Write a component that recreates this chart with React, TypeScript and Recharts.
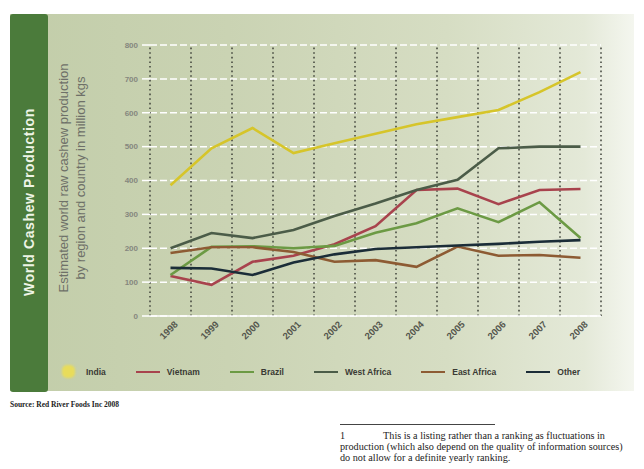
import React from 'react';
import { LineChart, Line, XAxis, YAxis, CartesianGrid, ReferenceLine, Legend } from 'recharts';

// million kgs
const years = ['1998', '1999', '2000', '2001', '2002', '2003', '2004', '2005', '2006', '2007', '2008'];
const india = [386, 495, 555, 481, 510, 538, 566, 587, 608, 661, 720];
const vietnam = [118, 92, 160, 178, 212, 265, 372, 376, 330, 372, 375];
const brazil = [121, 204, 206, 200, 207, 246, 274, 318, 277, 336, 230];
const westAfrica = [200, 245, 230, 254, 295, 332, 372, 402, 495, 500, 500];
const eastAfrica = [186, 203, 203, 189, 160, 165, 145, 205, 178, 180, 172];
const other = [142, 140, 121, 158, 182, 198, 203, 208, 213, 219, 224];
const yTicks = [0, 100, 200, 300, 400, 500, 600, 700, 800];

const series = [
  { name: 'India', values: india, color: '#d6c52a' },
  { name: 'Vietnam', values: vietnam, color: '#a8434d' },
  { name: 'Brazil', values: brazil, color: '#6c9a44' },
  { name: 'West Africa', values: westAfrica, color: '#4b5c48' },
  { name: 'East Africa', values: eastAfrica, color: '#8d5b33' },
  { name: 'Other', values: other, color: '#1b2d38' },
];
const order = series.map((s) => s.name);

const rows = years.map((year, i) => {
  const row: Record<string, number | string> = { idx: i, year };
  series.forEach((s) => { row[s.name] = s.values[i]; });
  return row;
});

// category boundaries for the dotted vertical grid
const bounds = [...years.map((_, i) => i - 0.5), years.length - 0.5];

const YearTick = ({ x, y, payload }: any) => (
  <text
    x={x + 8}
    y={y + 9}
    transform={`rotate(-45 ${x + 8} ${y + 9})`}
    textAnchor="end"
    fontSize={9.5}
    fontWeight={700}
    fill="#55574e"
  >
    {years[payload.value]}
  </text>
);

const renderLegend = ({ payload }: any) => {
  const items = [...payload].sort((a: any, b: any) => order.indexOf(a.value) - order.indexOf(b.value));
  return (
    <div style={{ display: 'flex', alignItems: 'center', gap: 30, paddingLeft: 62 }}>
      {items.map((p: any) => (
        <div key={p.value} style={{ display: 'flex', alignItems: 'center', gap: p.value === 'India' ? 11 : 7 }}>
          {p.value === 'India' ? (
            <span style={{ width: 13, height: 13, borderRadius: 5, background: '#e8dc5a', filter: 'blur(1px)' }} />
          ) : (
            <span style={{ width: 24, height: 2, background: p.color }} />
          )}
          <span style={{ fontSize: 8.5, fontWeight: 700, color: '#3a3a34' }}>{p.value}</span>
        </div>
      ))}
    </div>
  );
};

export default function App() {
  return (
    <div style={{ position: 'absolute', left: 0, top: 0, width: 644, height: 469, background: '#fff', overflow: 'hidden', fontFamily: '"Liberation Sans", Arial, sans-serif' }}>
      <div style={{ position: 'absolute', left: 10, top: 14, width: 624, height: 377, background: 'linear-gradient(90deg, #c2cda9 0%, #cad3b3 35%, #d6ddc3 70%, #e4e9d8 92%, #f4f6ef 100%)' }} />
      <div style={{ position: 'absolute', left: 10, top: 14, width: 38, height: 378, background: '#4b7b3b', borderRadius: 3 }} />
      <div style={{ position: 'absolute', left: 29, top: 202, transform: 'translate(-50%, -50%) rotate(-90deg)', whiteSpace: 'nowrap', color: '#eef4e6', fontSize: 14, fontWeight: 700, letterSpacing: 0.6 }}>
        World Cashew Production
      </div>
      <div style={{ position: 'absolute', left: 72, top: 178, transform: 'translate(-50%, -50%) rotate(-90deg)', whiteSpace: 'nowrap', color: '#6e7068', fontSize: 13, lineHeight: '17px', textAlign: 'center' }}>
        Estimated world raw cashew production<br />by region and country in million kgs
      </div>
      <div style={{ position: 'absolute', left: 0, top: 0 }}>
        <LineChart width={644} height={400} data={rows} margin={{ top: 45, right: 43, left: 110, bottom: 34 }}>
          <CartesianGrid vertical={false} stroke="#ffffff" strokeDasharray="7 3" strokeWidth={1.5} />
          {bounds.map((b) => (
            <ReferenceLine key={b} x={b} stroke="#3f423a" strokeDasharray="1.6 3" strokeWidth={1.5} />
          ))}
          <XAxis
            dataKey="idx"
            type="number"
            domain={[-0.5, years.length - 0.5]}
            ticks={years.map((_, i) => i)}
            interval={0}
            height={50}
            tickSize={0}
            tickMargin={0}
            axisLine={{ stroke: '#ffffff', strokeWidth: 1.5 }}
            tickLine={false}
            tick={<YearTick />}
          />
          <YAxis
            domain={[0, 800]}
            ticks={yTicks}
            width={40}
            axisLine={false}
            tickLine={{ stroke: '#ffffff', strokeWidth: 1.5 }}
            tickSize={8}
            tickMargin={4}
            tick={{ fill: '#85877e', fontSize: 8, fontWeight: 700 }}
          />
          <Legend
            layout="horizontal"
            verticalAlign="middle"
            align="center"
            wrapperStyle={{ left: 0, top: 365, width: 644 }}
            content={renderLegend}
          />
          {series.map((s) => (
            <Line
              key={s.name}
              dataKey={s.name}
              name={s.name}
              stroke={s.color}
              strokeWidth={2.6}
              dot={false}
              activeDot={false}
              isAnimationActive={false}
            />
          ))}
        </LineChart>
      </div>
      <div style={{ position: 'absolute', left: 10, top: 400, fontFamily: '"Liberation Serif", serif', fontSize: 7.5, fontWeight: 700, color: '#222' }}>
        Source: Red River Foods Inc 2008
      </div>
      <div style={{ position: 'absolute', left: 340, top: 424, width: 155, height: 1, background: '#444' }} />
      <div style={{ position: 'absolute', left: 340, top: 430, width: 300, fontFamily: '"Liberation Serif", serif', fontSize: 10.2, lineHeight: '11px', color: '#222', whiteSpace: 'nowrap' }}>
        <div><span>1</span><span style={{ marginLeft: 38 }}>This is a listing rather than a ranking as fluctuations in</span></div>
        <div>production (which also depend on the quality of information sources)</div>
        <div>do not allow for a definite yearly ranking.</div>
      </div>
    </div>
  );
}
